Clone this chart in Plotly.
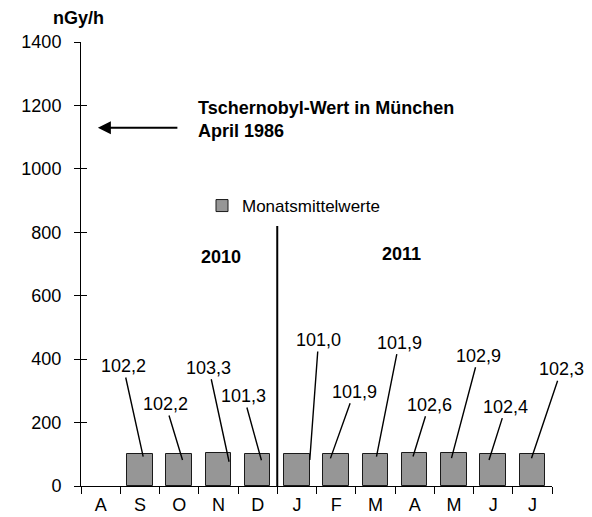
import plotly.graph_objects as go

# ---- data ----
months = ["A", "S", "O", "N", "D", "J", "F", "M", "A", "M", "J", "J"]
values = [None, 102.2, 102.2, 103.3, 101.3, 101.0, 101.9, 101.9, 102.6, 102.9, 102.4, 102.3]
y_ticks = [0, 200, 400, 600, 800, 1000, 1200, 1400]
tschernobyl_value = 1130
year_labels = ["2010", "2011"]

# ---- label placement (pixel offsets, style only) ----
head_dx = [0, 3.3, 3.4, 10.7, 3.8, 12.9, -5.7, 1.1, -1.6, -2.4, -4.1, -0.9]
head_dy = [0, -3.1, -6.4, -8.5, -6.4, -6, -4.7, -3, -3, -4.7, -6.4, -4.7]
tail_ax = [0, -20, -17, -20.3, -17.7, 8.8, 23.8, 22.6, 16, 27.1, 16.9, 30]
tail_ay = [0, -90.7, -56, -94, -64.3, -120, -66.6, -114, -51.7, -102.3, -53.3, -89]

FONT = "Liberation Sans, Arial, sans-serif"
idx = list(range(len(months)))

# page has an 8px body margin; figure geometry compensates
OFF = 8
W, H = 592 - OFF, 517 - OFF
PX0, PX1, PY0, PY1 = 81, 552, 42, 486  # plot area in page pixels
L, T = PX0 - OFF, PY0 - OFF
PW, PH = PX1 - PX0, PY1 - PY0
R, B = W - L - PW, H - T - PH


def px_x(p):
    return (p - PX0) / PW


def px_y(p):
    return (PY1 - p) / PH


fig = go.Figure()
fig.add_trace(go.Bar(
    x=idx, y=values, width=0.65, name="Monatsmittelwerte",
    marker=dict(color="rgb(150,150,150)", line=dict(color="#1a1a1a", width=1)),
    hoverinfo="skip",
))
# invisible trace for crossing-ticks axis
fig.add_trace(go.Scatter(x=[0], y=[0], xaxis="x", yaxis="y2", mode="markers",
                         marker=dict(opacity=0), showlegend=False, hoverinfo="skip"))

annotations = []
for i, v in enumerate(values):
    if v is None:
        continue
    annotations.append(dict(
        x=i, y=v, xref="x", yref="y", xshift=head_dx[i], yshift=head_dy[i],
        ax=tail_ax[i], ay=tail_ay[i], text=f"{v:.1f}".replace(".", ","),
        showarrow=True, arrowhead=0, arrowwidth=1.4, arrowcolor="black",
        font=dict(family=FONT, size=18, color="black"),
    ))

# Tschernobyl arrow + text
annotations.append(dict(
    x=-0.07, y=tschernobyl_value, xref="x", yref="y", ax=81, ay=0,
    text="", showarrow=True, arrowhead=2, arrowsize=1.3, arrowwidth=2, arrowcolor="black",
))
annotations.append(dict(
    x=px_x(196), y=px_y(119), xref="paper", yref="paper",
    xanchor="left", yanchor="middle", align="left", showarrow=False,
    text="<b>Tschernobyl-Wert in München<br>April 1986</b>",
    font=dict(family=FONT, size=18, color="black"),
))
# year labels
annotations.append(dict(x=px_x(221), y=px_y(257), xref="paper", yref="paper", showarrow=False,
                        xanchor="center", yanchor="middle",
                        text=f"<b>{year_labels[0]}</b>",
                        font=dict(family=FONT, size=18, color="black")))
annotations.append(dict(x=px_x(401), y=px_y(254), xref="paper", yref="paper", showarrow=False,
                        xanchor="center", yanchor="middle",
                        text=f"<b>{year_labels[1]}</b>",
                        font=dict(family=FONT, size=18, color="black")))
# unit label
annotations.append(dict(x=px_x(78), y=px_y(18), xref="paper", yref="paper",
                        xanchor="center", yanchor="middle",
                        showarrow=False, text="<b>nGy/h</b>",
                        font=dict(family=FONT, size=18, color="black")))

fig.update_layout(
    width=W, height=H,
    margin=dict(l=L, r=R, t=T, b=B, pad=0, autoexpand=False),
    paper_bgcolor="white", plot_bgcolor="white",
    font=dict(family=FONT, size=18, color="black"),
    bargap=0,
    showlegend=True,
    legend=dict(x=px_x(202), y=px_y(206), xanchor="left", yanchor="middle",
                font=dict(family=FONT, size=17, color="black"), bgcolor="rgba(0,0,0,0)",
                itemwidth=30),
    xaxis=dict(
        range=[-0.5, len(months) - 0.5], tickmode="array", tickvals=idx, ticktext=months,
        ticks="", showline=True, linecolor="black", linewidth=1, showgrid=False, zeroline=False,
        minor=dict(tickmode="linear", tick0=-0.5, dtick=1, ticks="outside", ticklen=7,
                   tickcolor="black", tickwidth=1, showgrid=False),
        ticklabelstandoff=2, automargin=False,
        tickfont=dict(family=FONT, size=18, color="black"),
    ),
    yaxis=dict(
        range=[0, 1400], tickmode="array", tickvals=y_ticks, ticks="outside", ticklen=6,
        tickcolor="black", showline=True, linecolor="black", linewidth=1, showgrid=False,
        zeroline=False, ticklabelstandoff=9, automargin=False,
        tickfont=dict(family=FONT, size=18, color="black"),
    ),
    yaxis2=dict(
        range=[0, 1400], overlaying="y", anchor="x", side="left", tickmode="array",
        tickvals=y_ticks, ticks="inside", ticklen=6, tickcolor="black", showticklabels=False,
        showline=False, showgrid=False, zeroline=False, automargin=False,
    ),
    annotations=annotations,
    shapes=[dict(type="line", xref="x", yref="y", x0=4.5, x1=4.5, y0=0, y1=820,
                 line=dict(color="black", width=2))],
)

fig.write_html("out.html")
